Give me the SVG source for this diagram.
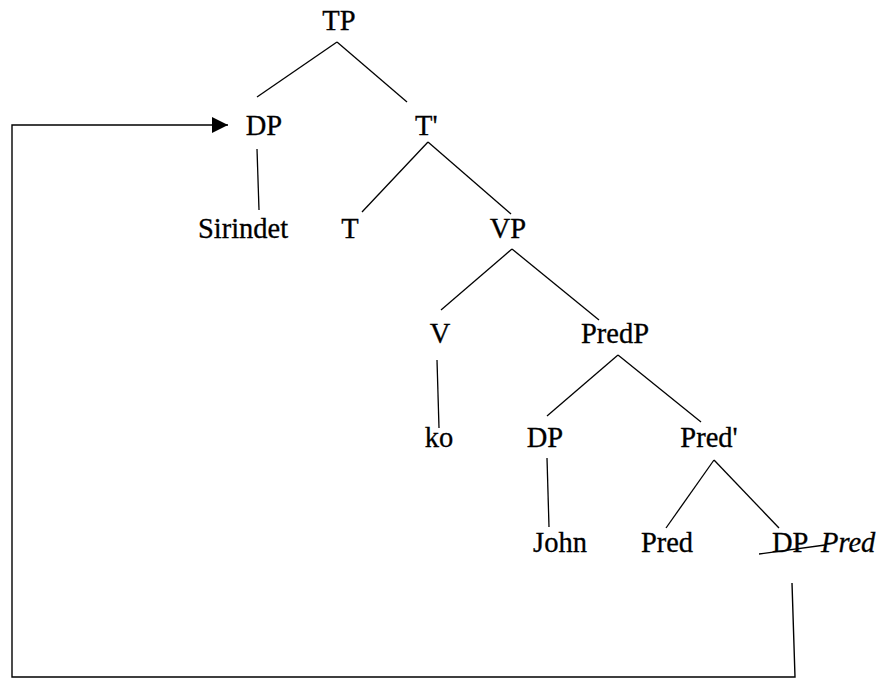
<svg xmlns="http://www.w3.org/2000/svg" width="881" height="678" viewBox="0 0 881 678">
  <style>
    text { font-family: "Liberation Serif", "Times New Roman", serif; font-size: 28.5px; fill: #000; stroke: #000; stroke-width: 0.3; }
    .c { text-anchor: middle; }
    .it { font-style: italic; }
    .edge { stroke: #000; stroke-width: 1.3; fill: none; }
    .move { stroke: #000; stroke-width: 1.4; fill: none; }
  </style>
  <defs>
    <marker id="arrowhead" viewBox="0 0 16 16" refX="16" refY="8" markerWidth="16" markerHeight="16" markerUnits="userSpaceOnUse" orient="auto">
      <path d="M0,0 L16,8 L0,16 Z" fill="#000"/>
    </marker>
  </defs>
  <rect width="881" height="678" fill="#fff"/>

  <!-- tree branches and movement path -->
  <g id="connectors">
    <line class="edge" x1="337" y1="42" x2="257" y2="97"/>
    <line class="edge" x1="337" y1="42" x2="407" y2="102"/>
    <line class="edge" x1="257" y1="149" x2="259" y2="210"/>
    <line class="edge" x1="428" y1="142" x2="362" y2="212"/>
    <line class="edge" x1="428" y1="142" x2="511" y2="214"/>
    <line class="edge" x1="512" y1="249" x2="441" y2="310"/>
    <line class="edge" x1="512" y1="249" x2="599" y2="320"/>
    <line class="edge" x1="437" y1="360" x2="439" y2="428"/>
    <line class="edge" x1="618" y1="355" x2="547" y2="416"/>
    <line class="edge" x1="618" y1="355" x2="701" y2="422"/>
    <line class="edge" x1="547" y1="458" x2="549" y2="527"/>
    <line class="edge" x1="714" y1="460" x2="666" y2="528"/>
    <line class="edge" x1="714" y1="460" x2="779" y2="528"/>
    <!-- movement of the predicate DP up to Spec,TP -->
    <polyline class="move" points="792,583 795,677 12,677 12,125 228,125" marker-end="url(#arrowhead)"/>
  </g>

  <g id="TP"><text class="c" x="339" y="30">TP</text></g>
  <g id="DP-subject"><text class="c" x="264" y="135">DP</text></g>
  <g id="T-bar"><text x="415" y="135">T'</text></g>
  <g id="Sirindet"><text class="c" x="243" y="238">Sirindet</text></g>
  <g id="T"><text class="c" x="350" y="238">T</text></g>
  <g id="VP"><text class="c" x="508" y="238">VP</text></g>
  <g id="V"><text class="c" x="440" y="343">V</text></g>
  <g id="PredP"><text class="c" x="615" y="343">PredP</text></g>
  <g id="ko"><text class="c" x="439" y="447">ko</text></g>
  <g id="DP-inner"><text class="c" x="545" y="447">DP</text></g>
  <g id="Pred-bar"><text class="c" x="709" y="447">Pred'</text></g>
  <g id="John"><text class="c" x="560" y="552">John</text></g>
  <g id="Pred"><text class="c" x="667" y="552">Pred</text></g>
  <g id="DP-trace">
    <text x="772" y="552">DP</text>
    <text class="it" x="821" y="552">Pred</text>
    <line class="edge" x1="759" y1="554" x2="825" y2="545"/>
  </g>
</svg>
